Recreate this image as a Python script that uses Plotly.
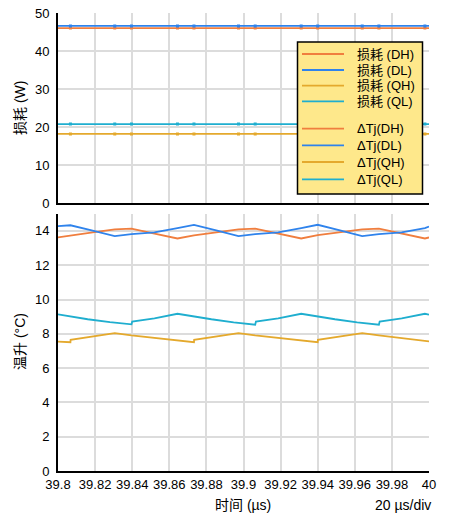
import plotly.graph_objects as go
from plotly.subplots import make_subplots

FONT = "Arial, 'Liberation Sans', 'Noto Sans CJK SC', sans-serif"

# ---- data ----
x_ticks = [39.8, 39.82, 39.84, 39.86, 39.88, 39.9, 39.92, 39.94, 39.96, 39.98, 40.0]
x_tick_labels = ["39.8", "39.82", "39.84", "39.86", "39.88", "39.9", "39.92", "39.94", "39.96", "39.98", "40"]
loss_ticks = [0, 10, 20, 30, 40, 50]
temp_ticks = [0, 2, 4, 6, 8, 10, 12, 14]

# losses (W) - constant over the window
loss_t = [39.8, 39.8067, 39.8306, 39.8396, 39.8644, 39.8733, 39.8973, 39.9063,
          39.9311, 39.9400, 39.9640, 39.9730, 39.9978, 40.0]
loss_DH = [46.05, 46.05, 46.05, 46.05, 46.05, 46.05, 46.05, 46.05, 46.05, 46.05, 46.05, 46.05, 46.05, 46.05]
loss_DL = [46.6, 46.6, 46.6, 46.6, 46.6, 46.6, 46.6, 46.6, 46.6, 46.6, 46.6, 46.6, 46.6, 46.6]
loss_QH = [18.2, 18.2, 18.2, 18.2, 18.2, 18.2, 18.2, 18.2, 18.2, 18.2, 18.2, 18.2, 18.2, 18.2]
loss_QL = [20.8, 20.8, 20.8, 20.8, 20.8, 20.8, 20.8, 20.8, 20.8, 20.8, 20.8, 20.8, 20.8, 20.8]

# temperature rise (°C)
t_D = [39.8, 39.8067, 39.8187, 39.8306, 39.8396, 39.8520, 39.8644, 39.8733, 39.8853, 39.8973,
       39.9063, 39.9187, 39.9311, 39.9400, 39.9520, 39.9640, 39.9730, 39.9853, 39.9978, 40.0]
dTj_DH = [13.62, 13.74, 13.92, 14.09, 14.13, 13.85, 13.56, 13.74, 13.92, 14.09,
          14.13, 13.85, 13.56, 13.76, 13.93, 14.09, 14.13, 13.85, 13.56, 13.62]
dTj_DL = [14.28, 14.33, 14.02, 13.70, 13.81, 13.91, 14.17, 14.35, 14.03, 13.70,
          13.81, 13.91, 14.17, 14.36, 14.03, 13.70, 13.81, 13.91, 14.17, 14.25]

t_QL = [39.8, 39.8067, 39.8160, 39.8280, 39.8396, 39.8400, 39.8520, 39.8644, 39.8733, 39.8827,
        39.8947, 39.9063, 39.9067, 39.9187, 39.9311, 39.9400, 39.9493, 39.9613, 39.9730, 39.9734,
        39.9853, 39.9978, 40.0]
dTj_QL = [9.13, 9.01, 8.85, 8.68, 8.55, 8.71, 8.90, 9.17, 9.00, 8.85,
          8.67, 8.53, 8.71, 8.90, 9.17, 9.00, 8.85, 8.67, 8.53, 8.71,
          8.90, 9.17, 9.12]

t_QH = [39.8, 39.8067, 39.8068, 39.8187, 39.8306, 39.8396, 39.8520, 39.8644, 39.8733, 39.8734,
        39.8853, 39.8973, 39.9063, 39.9187, 39.9311, 39.9400, 39.9401, 39.9520, 39.9640, 39.9730,
        39.9853, 39.9978, 40.0]
dTj_QH = [7.55, 7.51, 7.65, 7.85, 8.04, 7.91, 7.75, 7.60, 7.51, 7.65,
          7.85, 8.04, 7.91, 7.75, 7.60, 7.51, 7.65, 7.85, 8.04, 7.91,
          7.75, 7.60, 7.56]

loss_names = ["损耗 (DH)", "损耗 (DL)", "损耗 (QH)", "损耗 (QL)"]
temp_names = ["ΔTj(DH)", "ΔTj(DL)", "ΔTj(QH)", "ΔTj(QL)"]

# ---- styles ----
C_DH = "#F07E3E"
C_DL = "#2F83EC"
C_QH = "#E4A92D"
C_QL = "#1FAECF"
COLORS = [C_DH, C_DL, C_QH, C_QL]
LW = 1.8

W, H = 453, 523
ML, MR, MT, MB = 58, 24, 13, 52
PW = W - ML - MR
PH = H - MT - MB


def px2paper(px, py):
    return (px - ML) / PW, (H - MB - py) / PH


fig = make_subplots(rows=2, cols=1, shared_xaxes=False, vertical_spacing=0.02)

loss_vals = [loss_DH, loss_DL, loss_QH, loss_QL]
for name, ys, col in zip(loss_names, loss_vals, COLORS):
    fig.add_trace(go.Scatter(x=loss_t, y=ys, mode="lines", name=name, showlegend=False,
                             line=dict(color=col, width=LW)), row=1, col=1)
for name, ys, col in zip(loss_names, loss_vals, COLORS):
    fig.add_trace(go.Scatter(x=loss_t[1:-1], y=ys[1:-1], mode="markers", showlegend=False,
                             marker=dict(color=col, size=3, symbol="square"),
                             hoverinfo="skip"), row=1, col=1)

temp_x = [t_D, t_D, t_QH, t_QL]
temp_vals = [dTj_DH, dTj_DL, dTj_QH, dTj_QL]
for name, xs, ys, col in zip(temp_names, temp_x, temp_vals, COLORS):
    fig.add_trace(go.Scatter(x=xs, y=ys, mode="lines", name=name, showlegend=False,
                             line=dict(color=col, width=LW)), row=2, col=1)

grid = "#dcdcdc"
common_x = dict(range=[39.8, 40.0], tickvals=x_ticks, ticktext=x_tick_labels,
                showgrid=True, gridcolor=grid, gridwidth=1.5, zeroline=False,
                showline=True, linecolor="black", linewidth=2, ticks="",
                automargin=False,
                tickfont=dict(family=FONT, size=13, color="black"))
fig.update_xaxes(**common_x)
fig.update_xaxes(showticklabels=False, domain=[0, 1], row=1, col=1)
fig.update_xaxes(domain=[0, 1], row=2, col=1)

common_y = dict(showgrid=True, gridcolor=grid, gridwidth=1.5, zeroline=False,
                showline=True, linecolor="black", linewidth=2, ticks="",
                ticklabelstandoff=4, automargin=False,
                tickfont=dict(family=FONT, size=13, color="black"))
fig.update_yaxes(**common_y)
fig.update_yaxes(range=[0, 50], tickvals=loss_ticks, domain=[0.5847, 1.0], row=1, col=1)
fig.update_yaxes(range=[0, 15], tickvals=temp_ticks, domain=[0, 0.5616], row=2, col=1)

# ---- legend (drawn as box + sample lines + text) ----
shapes = []
annotations = []
lx0, ly0 = px2paper(297.5, 194)
lx1, ly1 = px2paper(422.5, 42)
shapes.append(dict(type="rect", xref="paper", yref="paper", x0=lx0, y0=ly0, x1=lx1, y1=ly1,
                   fillcolor="#FEE88B", line=dict(color="black", width=1.5), layer="above"))
entry_rows = [54, 70, 85.7, 101.3, 128.7, 145.3, 162, 179.3]
entries = list(zip(loss_names + temp_names, COLORS + COLORS))
for (name, col), ey in zip(entries, entry_rows):
    sx0, sy = px2paper(302, ey)
    sx1, _ = px2paper(344, ey)
    shapes.append(dict(type="line", xref="paper", yref="paper", x0=sx0, x1=sx1, y0=sy, y1=sy,
                       line=dict(color=col, width=LW), layer="above"))
    tx, ty = px2paper(355, ey)
    annotations.append(dict(text=name, x=tx, y=ty, xref="paper", yref="paper", showarrow=False,
                            xanchor="left", yanchor="middle",
                            font=dict(family=FONT, size=13, color="black")))

# ---- axis titles ----
def ann(text, px, py, angle=0, xanchor="center"):
    x, y = px2paper(px, py)
    return dict(text=text, x=x, y=y, xref="paper", yref="paper", showarrow=False,
                textangle=angle, xanchor=xanchor, yanchor="middle",
                font=dict(family=FONT, size=14, color="black"))

annotations += [
    ann("损耗 (W)", 20, 108, -90),
    ann("温升 (°C)", 20, 342, -90),
    ann("时间 (µs)", 243, 505),
    ann("20 µs/div", 433, 505, xanchor="right"),
]

fig.update_layout(
    width=W, height=H,
    margin=dict(l=ML, r=MR, t=MT, b=MB, autoexpand=False),
    paper_bgcolor="white", plot_bgcolor="white",
    font=dict(family=FONT, size=13, color="black"),
    showlegend=False,
    shapes=shapes,
    annotations=annotations,
)

fig.write_html("out.html", config={"displayModeBar": False},
               post_script="document.body.style.margin='0';")
